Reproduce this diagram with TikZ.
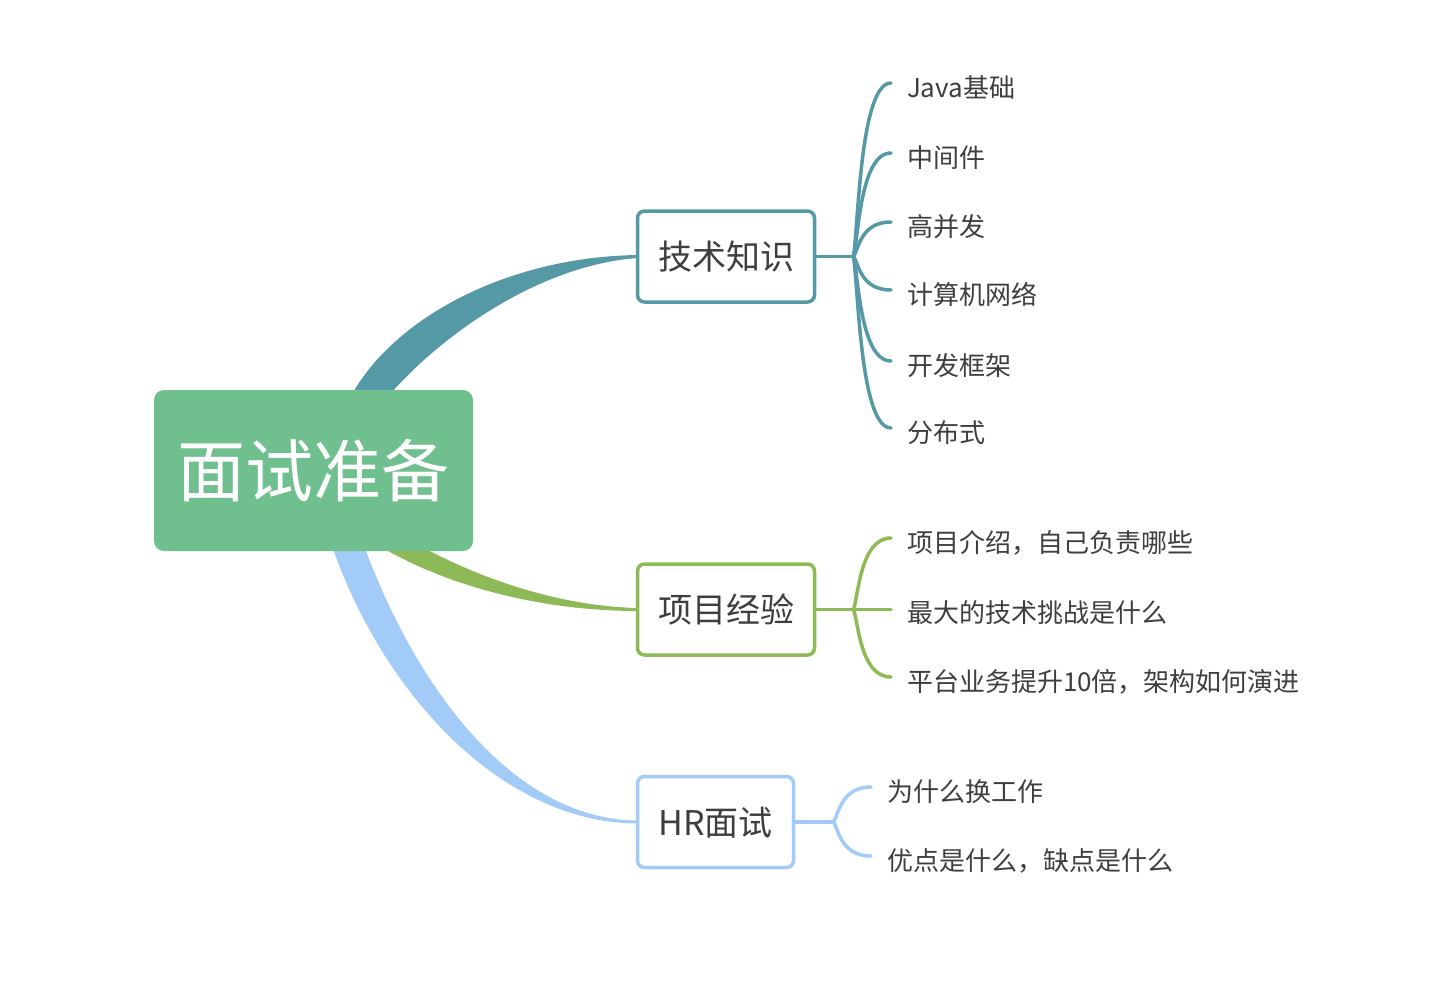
\documentclass[tikz,border=0pt]{standalone}
\usepackage{fontspec}
\setmainfont{Noto Sans CJK SC}
\usetikzlibrary{calc,backgrounds}

\definecolor{rootgreen}{RGB}{112,191,142}
\definecolor{techteal}{RGB}{84,153,165}
\definecolor{projgreen}{RGB}{141,185,86}
\definecolor{hrblue}{RGB}{163,203,248}
\definecolor{leaftext}{RGB}{62,62,62}

\tikzset{
  rootbox/.style={fill=rootgreen, rounded corners=10pt, minimum width=319pt, minimum height=161pt,
    inner sep=0pt, text=white, font=\fontsize{68}{80}\selectfont, text height=51pt, text depth=0pt},
  topicbox/.style={draw=#1, fill=white, line width=3.5pt, rounded corners=7pt, minimum height=91pt,
    inner sep=0pt, outer sep=0pt, text=leaftext, font=\fontsize{34}{40}\selectfont, text height=26pt, text depth=0pt},
  leaf/.style={anchor=west, inner xsep=16pt, inner ysep=0pt, outer sep=0pt, text=leaftext,
    font=\fontsize{26}{30}\selectfont, text height=#1, text depth=0pt},
  leaf/.default=29pt,
  twig/.style={draw=#1, line width=3.5pt, line cap=round},
  curl/.style={to path={let \p1=(\tikztostart), \p2=(\tikztotarget) in
    .. controls (\x1+5pt,{\y1+0.2*(\y2-\y1)}) and (\x1+7pt,\y2) .. (\tikztotarget)}}
}

\begin{document}
\begin{tikzpicture}[x=1pt, y=-1pt]

    \useasboundingbox (0,0) rectangle (1444,996);

    % ROOT AND THE THREE TOPICS
    \node[rootbox] (root) at (313.5,470.5) {面试准备};
    \node[topicbox=techteal, minimum width=177pt] (tech) at (726,256.5) {技术知识};
    \node[topicbox=projgreen, minimum width=177pt] (proj) at (726,609.5) {项目经验};
    \node[topicbox=hrblue, minimum width=156pt] (hr) at (715.5,822) {HR面试};

    % FORK POINTS
    \coordinate (ftech) at ($(tech.east)+(39,0)$);
    \coordinate (fproj) at ($(proj.east)+(39,0)$);
    \coordinate (fhr) at ($(hr.east)+(40,0)$);

    % 1. TECH LEAVES
    \draw[twig=techteal] (tech.east) -- (ftech);
    \foreach \i/\y/\txt in {1/83/Java基础, 2/153/中间件, 3/222/高并发, 4/290/计算机网络, 5/361/开发框架, 6/428/分布式} {
        \node[leaf] (tl\i) at (891,\y) {\txt};
        \draw[twig=techteal] (ftech) to[curl] (tl\i.west);
    }

    % 2. PROJECT LEAVES
    \draw[twig=projgreen] (proj.east) -- (fproj);
    \node[leaf] (pl1) at (891,538) {项目介绍，自己负责哪些};
    \node[leaf=25pt] (pl2) at (891,609.5) {最大的技术挑战是什么};
    \node[leaf] (pl3) at (891,677) {平台业务提升10倍，架构如何演进};
    \draw[twig=projgreen] (fproj) to[curl] (pl1.west);
    \draw[twig=projgreen] (fproj) -- (pl2.west);
    \draw[twig=projgreen] (fproj) to[curl] (pl3.west);

    % 3. HR LEAVES
    \draw[twig=hrblue] (hr.east) -- (fhr);
    \foreach \i/\y/\txt in {1/787/为什么换工作, 2/856/优点是什么，缺点是什么} {
        \node[leaf] (hl\i) at (871,\y) {\txt};
        \draw[twig=hrblue] (fhr) to[curl] (hl\i.west);
    }

    % TAPERED MAIN BRANCHES (behind the root)
    \begin{scope}[on background layer]
        \fill[techteal] ($(root.north)+(35.5,10)$) .. controls (390,320) and (505,257) .. ($(tech.west)+(0,-1.5)$)
            -- ($(tech.west)+(0,1.5)$) .. controls (540,265) and (440,335) .. ($(root.north)+(71.5,10)$) -- cycle;
        \fill[projgreen] ($(root.south)+(56.5,-11)$) .. controls (440,585) and (540,611) .. ($(proj.west)+(0,1.5)$)
            -- ($(proj.west)+(0,-1.5)$) .. controls (550,606) and (465,572) .. ($(root.south)+(96.5,-11)$) -- cycle;
        \fill[hrblue] ($(root.south)+(16.5,-11)$) .. controls (380,690) and (500,823) .. ($(hr.west)+(0,1.5)$)
            -- ($(hr.west)+(0,-1.5)$) .. controls (520,820) and (420,700) .. ($(root.south)+(48.5,-11)$) -- cycle;
    \end{scope}

\end{tikzpicture}
\end{document}
